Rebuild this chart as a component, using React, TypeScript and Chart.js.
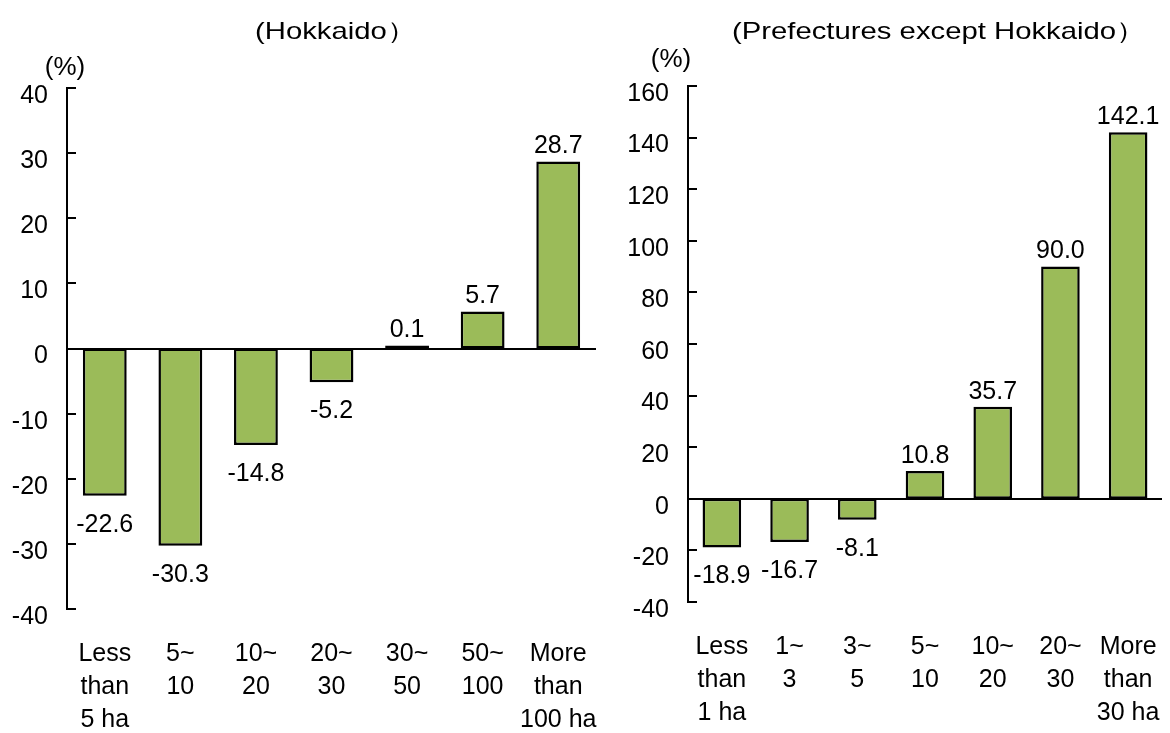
import React, { useEffect, useRef } from 'react';
import { Chart, registerables } from 'chart.js';

Chart.register(...registerables);

// ---- data ----
const hokkaidoCategories: string[][] = [
  ['Less', 'than', '5 ha'],
  ['5~', '10'],
  ['10~', '20'],
  ['20~', '30'],
  ['30~', '50'],
  ['50~', '100'],
  ['More', 'than', '100 ha'],
];
const hokkaidoValues: number[] = [-22.6, -30.3, -14.8, -5.2, 0.1, 5.7, 28.7];

const otherCategories: string[][] = [
  ['Less', 'than', '1 ha'],
  ['1~', '3'],
  ['3~', '5'],
  ['5~', '10'],
  ['10~', '20'],
  ['20~', '30'],
  ['More', 'than', '30 ha'],
];
const otherValues: number[] = [-18.9, -16.7, -8.1, 10.8, 35.7, 90.0, 142.1];

const hokkaidoAxis = { min: -40, max: 40, step: 10 };
const otherAxis = { min: -40, max: 160, step: 20 };

const hokkaidoTitle = '(Hokkaido）';
const otherTitle = '(Prefectures except Hokkaido）';
const unitLabel = '(%)';

const FAMILY = '"Liberation Sans", Arial, Helvetica, sans-serif';
const BAR_FILL = '#9BBB59';
const FONT_SIZE = 25;

const decorPlugin = {
  id: 'decor',
  afterDatasetsDraw(chart: any, _args: any, opts: any) {
    const ctx = chart.ctx as CanvasRenderingContext2D;
    const y = chart.scales.y;
    const area = chart.chartArea;
    ctx.save();
    ctx.strokeStyle = '#000';
    ctx.lineWidth = 2;
    // inward tick marks
    y.ticks.forEach((t: any) => {
      const py = Math.round(y.getPixelForValue(t.value));
      ctx.beginPath();
      ctx.moveTo(area.left, py);
      ctx.lineTo(area.left + 9, py);
      ctx.stroke();
    });
    // zero line
    const z = Math.round(y.getPixelForValue(0));
    ctx.beginPath();
    ctx.moveTo(area.left, z);
    ctx.lineTo(area.right, z);
    ctx.stroke();

    // value labels
    ctx.fillStyle = '#000';
    ctx.font = `${FONT_SIZE}px ${FAMILY}`;
    ctx.textAlign = 'center';
    ctx.textBaseline = 'middle';
    const meta = chart.getDatasetMeta(0);
    const data = chart.data.datasets[0].data as number[];
    meta.data.forEach((bar: any, i: number) => {
      const v = data[i];
      const ty = v >= 0 ? bar.y - 15 : bar.y + 29;
      ctx.fillText(v.toFixed(1), bar.x, ty);
    });

    // title (slightly wide lettering as in the source)
    ctx.save();
    ctx.font = `24px ${FAMILY}`;
    ctx.textAlign = 'left';
    ctx.textBaseline = 'alphabetic';
    ctx.translate(opts.titleX, 39);
    ctx.scale(1.22, 1);
    ctx.fillText(opts.title, 0, 0);
    ctx.restore();

    // unit
    ctx.font = `26px ${FAMILY}`;
    ctx.textAlign = 'center';
    ctx.textBaseline = 'middle';
    ctx.fillText(unitLabel, opts.unitX, opts.unitY);
    ctx.restore();
  },
};

function makeConfig(
  categories: string[][],
  values: number[],
  axis: { min: number; max: number; step: number },
  p: {
    yWidth: number;
    xHeight: number;
    top: number;
    right: number;
    barPct: number;
    title: string;
    titleX: number;
    unitX: number;
    unitY: number;
  }
): any {
  return {
    type: 'bar',
    data: {
      labels: categories,
      datasets: [
        {
          data: values,
          backgroundColor: BAR_FILL,
          borderColor: '#000',
          borderWidth: 2.5,
          borderSkipped: false,
          minBarLength: 3,
          categoryPercentage: 1,
          barPercentage: p.barPct,
        },
      ],
    },
    plugins: [decorPlugin],
    options: {
      responsive: false,
      animation: false,
      devicePixelRatio: 1,
      layout: { padding: { top: p.top, right: p.right, left: 0, bottom: 0 } },
      plugins: {
        legend: { display: false },
        tooltip: { enabled: false },
        title: { display: false },
        decor: { title: p.title, titleX: p.titleX, unitX: p.unitX, unitY: p.unitY },
      },
      scales: {
        x: {
          grid: { display: false, drawTicks: false },
          border: { display: false },
          ticks: {
            color: '#000',
            font: { size: FONT_SIZE, family: FAMILY, lineHeight: 1.32 },
            padding: 29,
            maxRotation: 0,
            minRotation: 0,
            autoSkip: false,
          },
          afterFit: (s: any) => {
            s.height = p.xHeight;
            s.paddingLeft = 0;
            s.paddingRight = 0;
          },
        },
        y: {
          min: axis.min,
          max: axis.max,
          grid: { display: false, drawTicks: false },
          border: { display: true, color: '#000', width: 2 },
          ticks: {
            stepSize: axis.step,
            color: '#000',
            font: { size: FONT_SIZE, family: FAMILY },
            padding: 19,
            labelOffset: 8,
          },
          afterFit: (s: any) => {
            s.width = p.yWidth;
            s.paddingTop = 0;
            s.paddingBottom = 0;
          },
        },
      },
    },
  };
}

export default function App() {
  const leftRef = useRef<HTMLCanvasElement>(null);
  const rightRef = useRef<HTMLCanvasElement>(null);

  useEffect(() => {
    Chart.defaults.font.family = FAMILY;
    const left = new Chart(
      leftRef.current as HTMLCanvasElement,
      makeConfig(hokkaidoCategories, hokkaidoValues, hokkaidoAxis, {
        yWidth: 67,
        xHeight: 124,
        top: 88,
        right: 4,
        barPct: 0.58,
        title: hokkaidoTitle,
        titleX: 255,
        unitX: 65,
        unitY: 68,
      })
    );
    const right = new Chart(
      rightRef.current as HTMLCanvasElement,
      makeConfig(otherCategories, otherValues, otherAxis, {
        yWidth: 88,
        xHeight: 131,
        top: 86,
        right: 8,
        barPct: 0.57,
        title: otherTitle,
        titleX: 132,
        unitX: 71,
        unitY: 60,
      })
    );
    return () => {
      left.destroy();
      right.destroy();
    };
  }, []);

  return (
    <div style={{ position: 'absolute', left: 0, top: 0, width: 1170, height: 733, background: '#fff' }}>
      <canvas
        ref={leftRef}
        width={600}
        height={733}
        style={{ position: 'absolute', left: 0, top: 0, width: 600, height: 733 }}
      />
      <canvas
        ref={rightRef}
        width={570}
        height={733}
        style={{ position: 'absolute', left: 600, top: 0, width: 570, height: 733 }}
      />
    </div>
  );
}
